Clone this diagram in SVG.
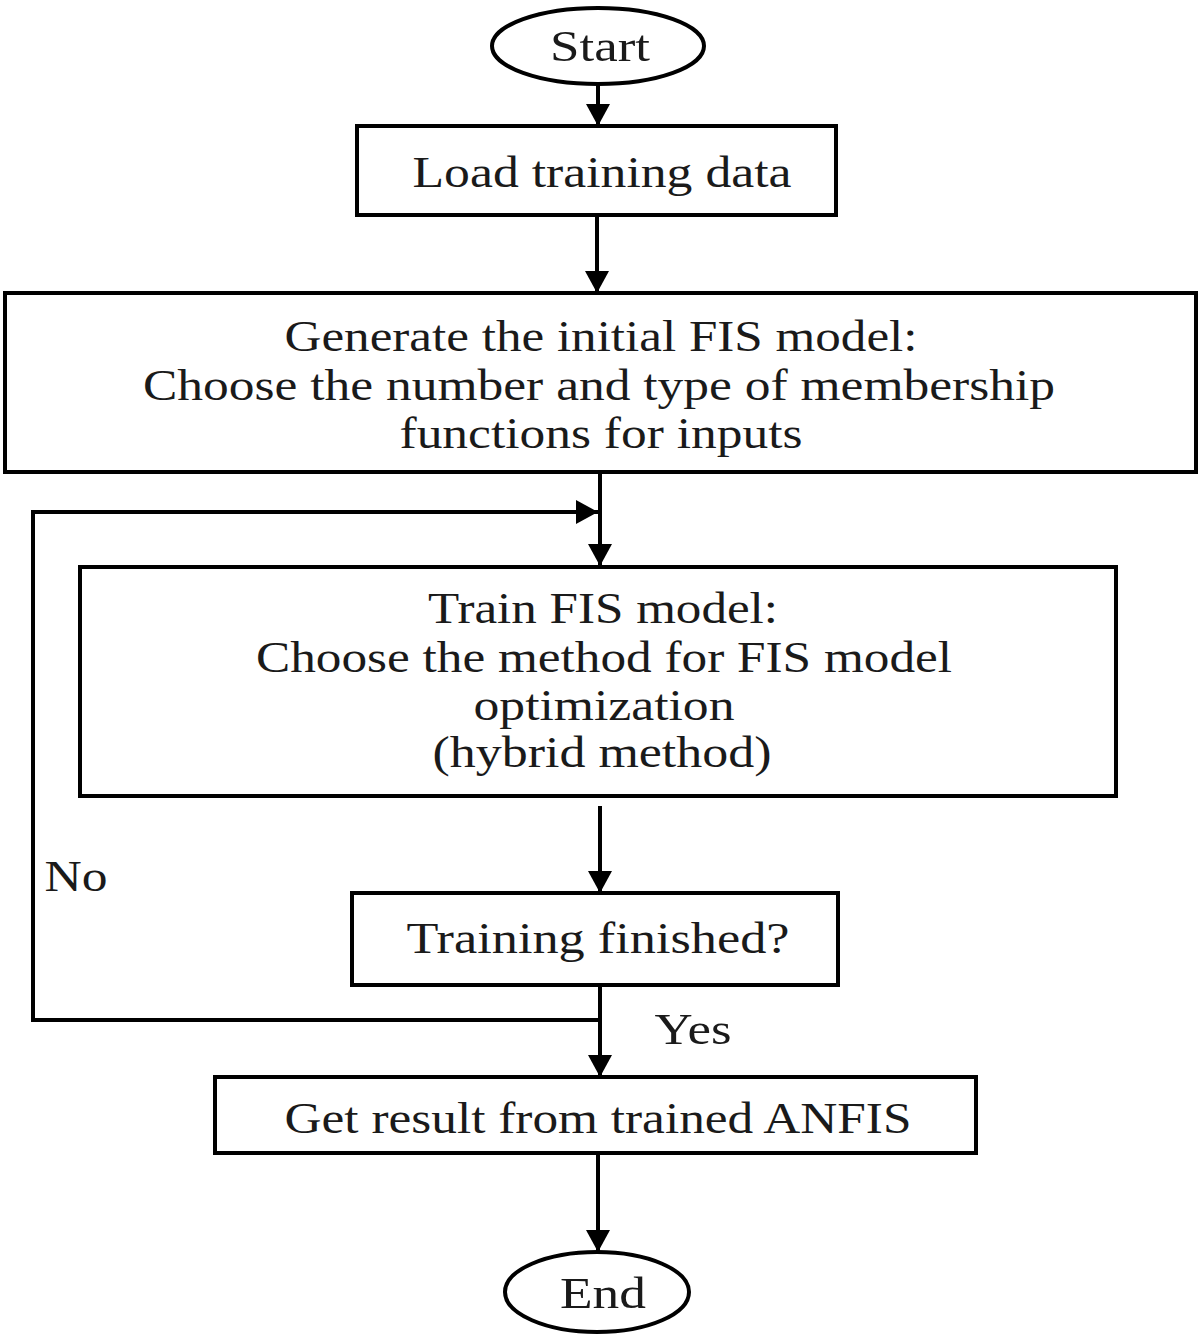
<svg xmlns="http://www.w3.org/2000/svg" width="1200" height="1336" viewBox="0 0 1200 1336">
<style>
.box{fill:#fff;stroke:#000;stroke-width:4}
.t{font-family:"Liberation Serif","Times New Roman",serif;font-size:44px;fill:#1a1a1a;text-anchor:middle}
.c{fill:none;stroke:#000;stroke-width:4}
</style>
<defs>
<marker id="ah" markerUnits="userSpaceOnUse" markerWidth="22" markerHeight="24" refX="22" refY="12" orient="auto">
<path d="M0,0 L22,12 L0,24 Z" fill="#000"/>
</marker>
</defs>
<rect width="1200" height="1336" fill="#fff"/>
<g id="connectors">
<path class="c" d="M598,84 V126" marker-end="url(#ah)"/>
<path class="c" d="M597,215 V293" marker-end="url(#ah)"/>
<path class="c" d="M600,472 V566" marker-end="url(#ah)"/>
<path class="c" d="M600,806 V893" marker-end="url(#ah)"/>
<path class="c" d="M600,985 V1077" marker-end="url(#ah)"/>
<path class="c" d="M600,1020 H33 V512 H598" marker-end="url(#ah)"/>
<path class="c" d="M598,1153 V1252" marker-end="url(#ah)"/>
</g>
<g id="start">
<ellipse class="box" cx="598" cy="46" rx="106" ry="38"/>
<text class="t" x="600" y="61" textLength="100" lengthAdjust="spacingAndGlyphs">Start</text>
</g>
<g id="load">
<rect class="box" x="357" y="126" width="479" height="89"/>
<text class="t" x="602" y="187" textLength="379" lengthAdjust="spacingAndGlyphs">Load training data</text>
</g>
<g id="generate">
<rect class="box" x="5" y="293" width="1191" height="179"/>
<text class="t" x="601" y="351" textLength="633" lengthAdjust="spacingAndGlyphs">Generate the initial FIS model:</text>
<text class="t" x="599" y="400" textLength="912" lengthAdjust="spacingAndGlyphs">Choose the number and type of membership</text>
<text class="t" x="601" y="448" textLength="403" lengthAdjust="spacingAndGlyphs">functions for inputs</text>
</g>
<g id="train">
<rect class="box" x="80" y="567" width="1036" height="229"/>
<text class="t" x="603" y="623" textLength="350" lengthAdjust="spacingAndGlyphs">Train FIS model:</text>
<text class="t" x="604" y="672" textLength="696" lengthAdjust="spacingAndGlyphs">Choose the method for FIS model</text>
<text class="t" x="604" y="720" textLength="261" lengthAdjust="spacingAndGlyphs">optimization</text>
<text class="t" x="602" y="767" textLength="339" lengthAdjust="spacingAndGlyphs">(hybrid method)</text>
</g>
<g id="check">
<rect class="box" x="352" y="893" width="486" height="92"/>
<text class="t" x="598" y="953" textLength="383" lengthAdjust="spacingAndGlyphs">Training finished?</text>
</g>
<g id="result">
<rect class="box" x="215" y="1077" width="761" height="76"/>
<text class="t" x="598" y="1133" textLength="627" lengthAdjust="spacingAndGlyphs">Get result from trained ANFIS</text>
</g>
<g id="end">
<ellipse class="box" cx="597" cy="1292" rx="92" ry="40"/>
<text class="t" x="603" y="1308" textLength="86" lengthAdjust="spacingAndGlyphs">End</text>
</g>
<g id="labels">
<text class="t" x="76" y="891" textLength="63" lengthAdjust="spacingAndGlyphs">No</text>
<text class="t" x="693" y="1044" textLength="77" lengthAdjust="spacingAndGlyphs">Yes</text>
</g>
</svg>
